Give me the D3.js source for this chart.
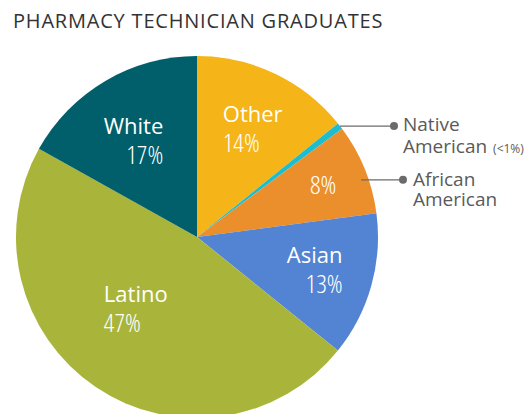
<!DOCTYPE html>
<html lang="en">
<head>
  <meta charset="UTF-8">
  <title>Pharmacy Technician Graduates</title>
  <script src="https://cdn.jsdelivr.net/npm/d3@7"></script>
  <style>
    body { margin: 0; background: #fff; }
    text { font-family: "Open Sans", sans-serif; }
  </style>
</head>
<body>
  <svg width="525" height="414"></svg>
  <script>
    // data
    var categories = ["Other", "Native American", "African American", "Asian", "Latino", "White"];
    var values = [14.2, 0.6, 8.1, 12.9, 47.3, 16.9];
    var pctLabels = ["14%", "<1%", "8%", "13%", "47%", "17%"];
    var colors = ["#f5b418", "#1bbdcf", "#ea8f2b", "#5383d3", "#a9b53a", "#005f6b"];

    var svg = d3.select("svg");
    var cx = 197, cy = 237, radius = 181;

    svg.append("text")
      .attr("x", 13).attr("y", 28)
      .attr("font-size", 20)
      .attr("letter-spacing", 0.8)
      .attr("fill", "#333")
      .text("PHARMACY TECHNICIAN GRADUATES");

    var pie = d3.pie().sort(null).value(function (d) { return d; });
    var pieData = pie(values);

    var arc = d3.arc().innerRadius(0).outerRadius(radius);
    var labelArc = d3.arc().innerRadius(0).outerRadius(240); // centroid at r=120

    var g = svg.append("g").attr("transform", "translate(" + cx + "," + cy + ")");

    g.selectAll("path")
      .data(pieData)
      .enter()
      .append("path")
      .attr("d", arc)
      .attr("fill", function (d, i) { return colors[i]; });

    // in-slice labels: anchor + nudge from centroid
    var inside = {
      0: { anchor: "start", nudge: [-26, 8], name: true },
      2: { anchor: "middle", nudge: [15, -13], name: false },
      3: { anchor: "end", nudge: [30, 9], name: true },
      4: { anchor: "start", nudge: [-26, -19], name: true },
      5: { anchor: "end", nudge: [27, 15], name: true }
    };

    pieData.forEach(function (d, i) {
      var cfg = inside[i];
      if (!cfg) return;
      var c = labelArc.centroid(d);
      var x = c[0] + cfg.nudge[0], y = c[1] + cfg.nudge[1];
      var t = g.append("g").attr("transform", "translate(" + x + "," + y + ")")
        .attr("text-anchor", cfg.anchor).attr("fill", "#fff");
      if (cfg.name) {
        t.append("text").attr("y", -15).attr("font-size", 22)
          .text(categories[i]);
      }
      t.append("text").attr("y", 15).attr("font-size", 26).attr("font-weight", 300)
        .style("font-stretch", "condensed")
        .text(pctLabels[i]);
    });

    // callouts
    var calloutColor = "#6b6b6b";
    var textColor = "#5a5a5a";

    // Native American: from the slice edge
    var nat = pieData[1];
    var nMid = (nat.startAngle + nat.endAngle) / 2;
    var nx = radius * Math.sin(nMid), ny = -radius * Math.cos(nMid);
    var nDot = 197;
    g.append("line").attr("x1", nx).attr("y1", ny).attr("x2", nDot).attr("y2", ny)
      .attr("stroke", calloutColor).attr("stroke-width", 1.2);
    g.append("circle").attr("cx", nDot).attr("cy", ny).attr("r", 4).attr("fill", calloutColor);
    var nt = g.append("text").attr("x", nDot + 9).attr("y", ny + 5).attr("font-size", 19).attr("fill", textColor);
    nt.append("tspan").text("Native");
    nt.append("tspan").attr("x", nDot + 9).attr("dy", 22).text("American ");
    nt.append("tspan").attr("font-size", 12).attr("dx", 1).text("(" + pctLabels[1] + ")");

    // African American: from the 8% label
    var af = pieData[2];
    var ac = labelArc.centroid(af);
    var ay = ac[1] - 13 + 1;
    var ax = ac[0] + 15 + 38;
    var aDot = 206;
    g.append("line").attr("x1", ax).attr("y1", ay).attr("x2", aDot).attr("y2", ay)
      .attr("stroke", calloutColor).attr("stroke-width", 1.2);
    g.append("circle").attr("cx", aDot).attr("cy", ay).attr("r", 4).attr("fill", calloutColor);
    var at = g.append("text").attr("x", aDot + 10).attr("y", ay + 6).attr("font-size", 19).attr("fill", textColor);
    at.append("tspan").text("African");
    at.append("tspan").attr("x", aDot + 10).attr("dy", 20).text("American");
  </script>
</body>
</html>
